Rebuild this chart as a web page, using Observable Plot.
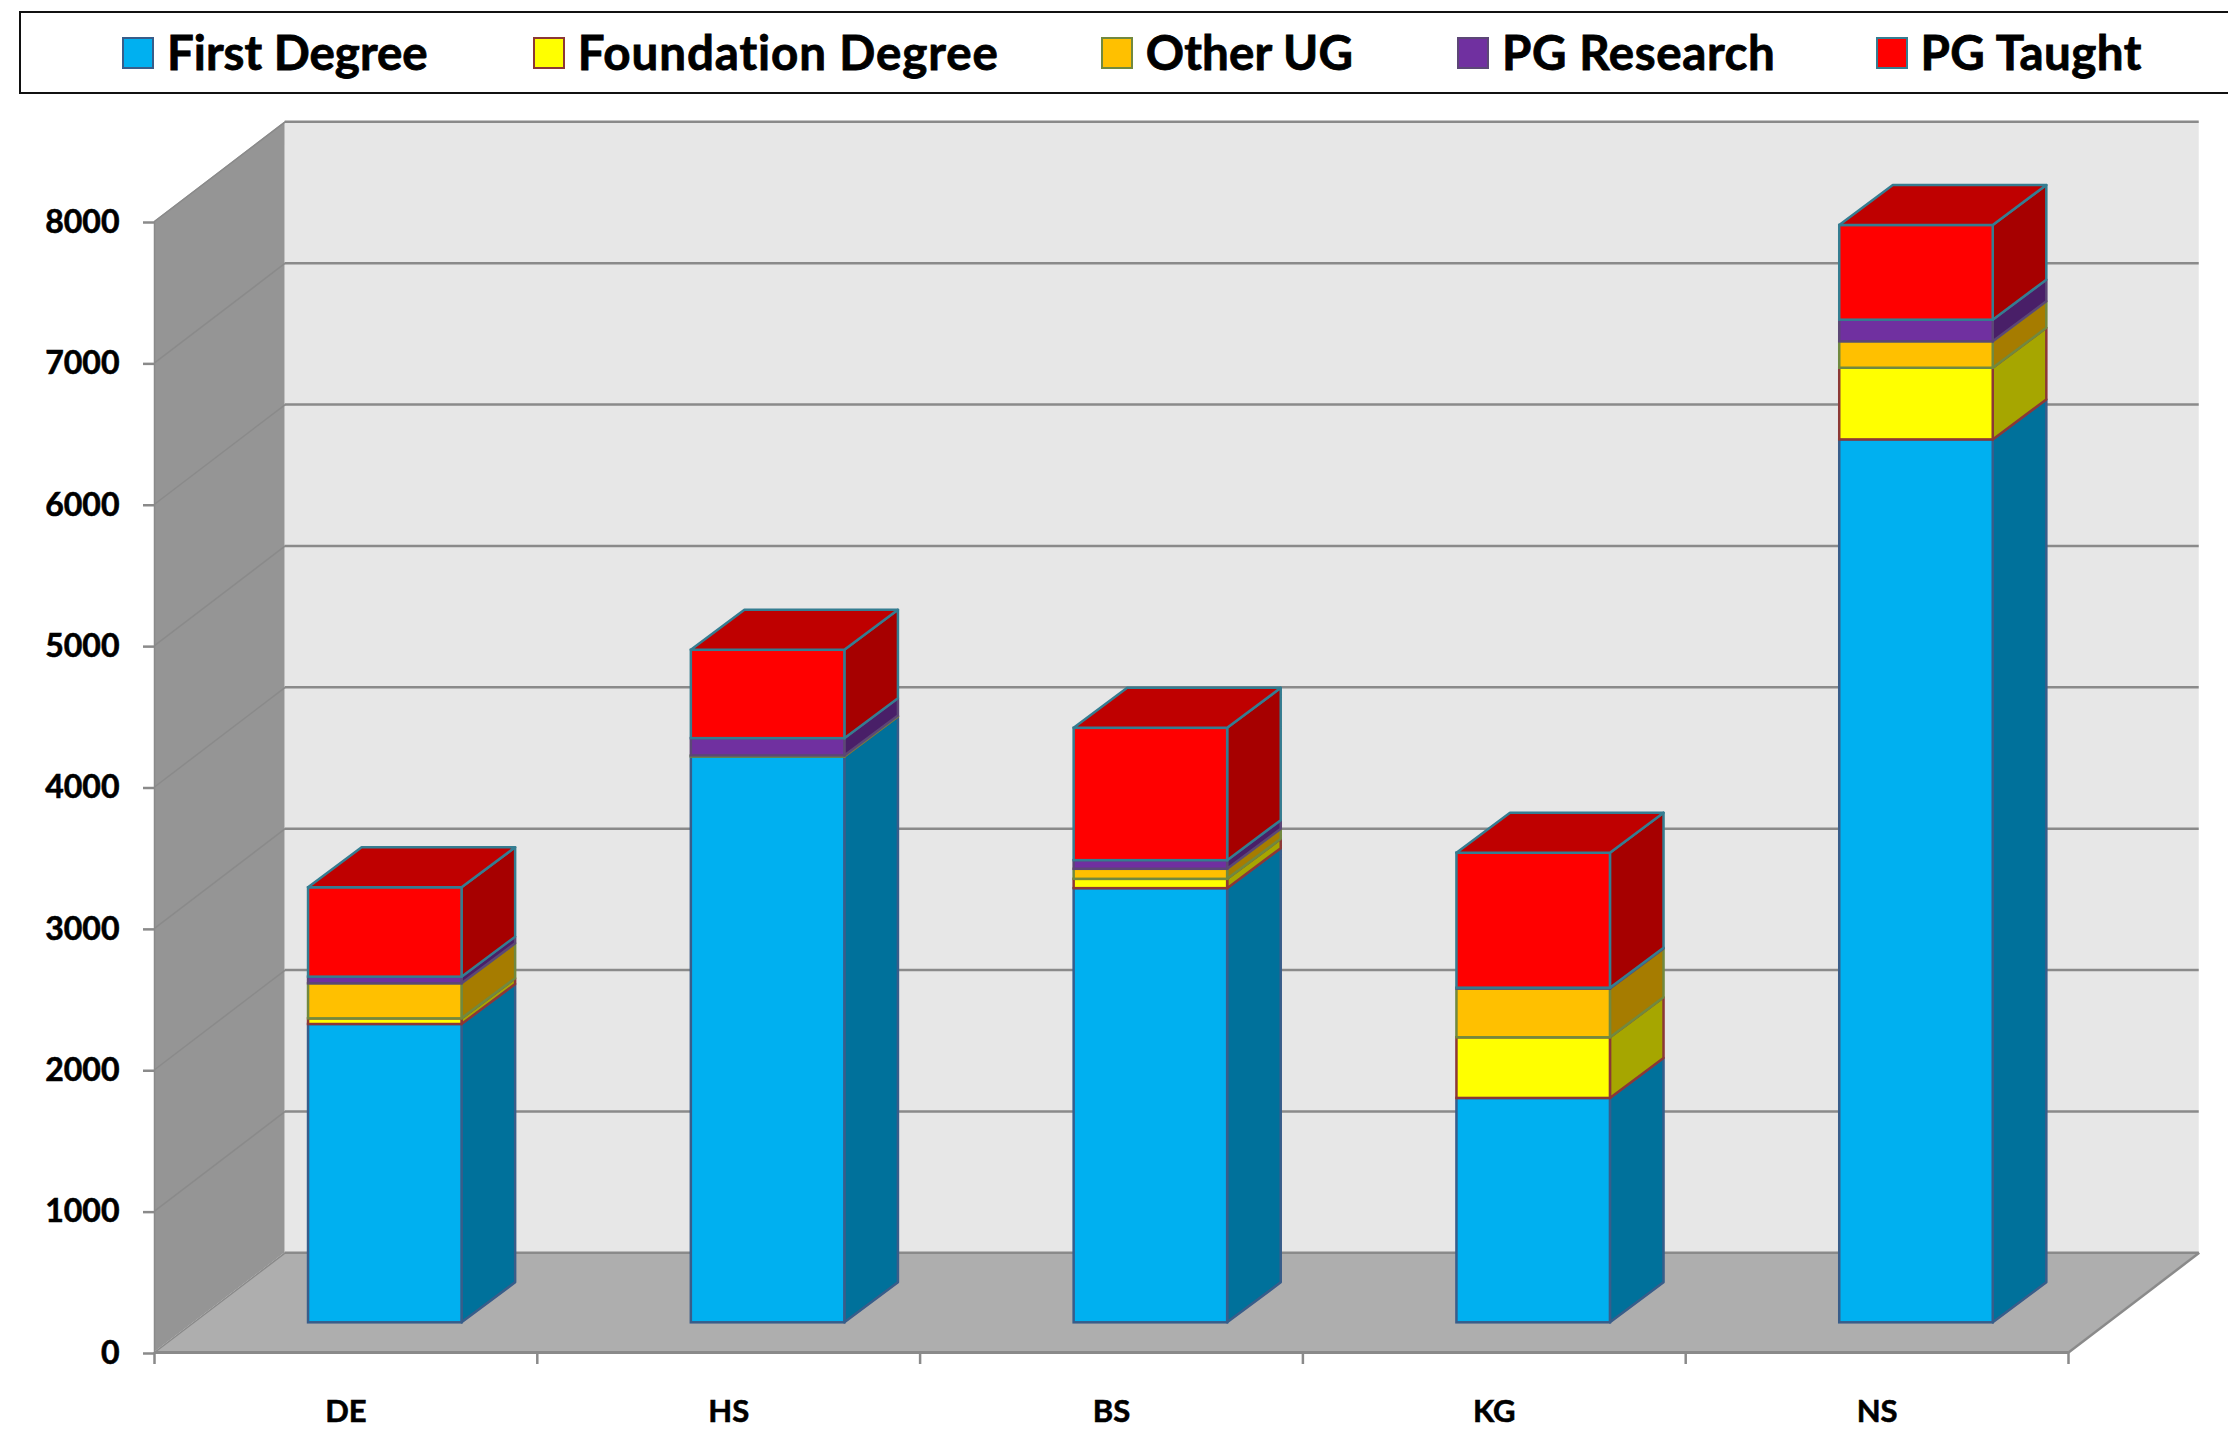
<!DOCTYPE html>
<html>
<head>
<meta charset="utf-8">
<script src="https://cdn.jsdelivr.net/npm/d3@7"></script>
<script src="https://cdn.jsdelivr.net/npm/@observablehq/plot@0.6"></script>
<style>
html,body{margin:0;padding:0;background:#fff;overflow:hidden;}
#legend{box-sizing:border-box;height:83px;margin:11px 0 7px 19px;border:2.5px solid #111;border-right:none;display:flex;align-items:center;padding-left:101px;font:700 47.5px Lato,sans-serif;font-variant-ligatures:none;-webkit-text-stroke:0.8px #000;color:#000;white-space:nowrap;}
#legend .item{display:flex;align-items:center;gap:13px;}
#legend .item span{position:relative;top:-1.5px;}
#legend .sw{box-sizing:border-box;width:32px;height:32px;border:2.5px solid;-webkit-text-stroke:0;}
svg{display:block;}
svg text{stroke:#000;stroke-width:0.6px;}
</style>
</head>
<body>
<div id="legend"></div>
<div id="chart"></div>
<script>
// Categories and series values
const categories = ["DE", "HS", "BS", "KG", "NS"];
const firstDegree      = [2110, 4002, 3071, 1587, 6245];
const foundationDegree = [  40,    0,   66,  429,  507];
const otherUG          = [ 248,    8,   71,  345,  187];
const pgResearch       = [  47,  122,   61,    6,  153];
const pgTaught         = [ 632,  625,  936,  955,  670];
const yTicks = [0, 1000, 2000, 3000, 4000, 5000, 6000, 7000, 8000];

const seriesNames  = ["First Degree", "Foundation Degree", "Other UG", "PG Research", "PG Taught"];
const seriesValues = [firstDegree, foundationDegree, otherUG, pgResearch, pgTaught];
const frontColors  = ["#00B0F0", "#FFFF00", "#FFC000", "#7030A0", "#FF0000"];
const sideColors   = ["#00719B", "#A6A600", "#A67C00", "#491F68", "#A60000"];
const lineColors   = ["#385D8A", "#8C3836", "#71893F", "#5C4776", "#357D91"];
const legendSpacing = [0, 0.9, 0.15, 0.6, 0.45];
const legendGaps    = [0, 105, 102, 104, 100];
const topColor     = "#BF0000";

// 3-D projection, expressed in data units
const wallDx = 0.3415, wallDy = 705;   // depth of the chart box
const barDx = 0.14, barDy = 283;       // depth of each bar
const barGap = 0.4024, barW = 0.401, barBase = 210;
const gridColor = "#8A8A8A";

// Legend
const legend = document.getElementById("legend");
seriesNames.forEach((name, i) => {
  const item = document.createElement("div");
  item.className = "item";
  item.style.marginLeft = legendGaps[i] + "px";
  const sw = document.createElement("div");
  sw.className = "sw";
  sw.style.background = frontColors[i];
  sw.style.borderColor = lineColors[i];
  const label = document.createElement("span");
  label.textContent = name;
  label.style.letterSpacing = legendSpacing[i] + "px";
  item.append(sw, label);
  legend.append(item);
});

// Stacked segments
const fronts = [], sides = [], tops = [];
seriesNames.forEach((name, s) => {
  const front = [], side = [];
  categories.forEach((c, i) => {
    let lo = barBase;
    for (let k = 0; k < s; k++) lo += seriesValues[k][i];
    const hi = lo + seriesValues[s][i];
    const x1 = i + barGap, x2 = x1 + barW;
    front.push({x1, x2, y1: lo, y2: hi});
    side.push({k: c, x: x2, y1: lo, y2: hi});
    side.push({k: c, x: x2 + barDx, y1: lo + barDy, y2: hi + barDy});
    if (s === seriesNames.length - 1) {
      tops.push({k: c, y: hi, x1, x2});
      tops.push({k: c, y: hi + barDy, x1: x1 + barDx, x2: x2 + barDx});
    }
  });
  fronts.push(front);
  sides.push(side);
});

const n = categories.length;
const marks = [
  // left wall
  Plot.areaY([{x: 0, y1: 0, y2: 8000}, {x: wallDx, y1: wallDy, y2: 8000 + wallDy}],
    {x: "x", y1: "y1", y2: "y2", fill: "#959595"}),
  // back wall
  Plot.rect([{}], {x1: wallDx, x2: n + wallDx, y1: wallDy, y2: 8000 + wallDy, fill: "#E7E7E7"}),
  // floor
  Plot.areaX([{y: 0, x1: 0, x2: n}, {y: wallDy, x1: wallDx, x2: n + wallDx}],
    {y: "y", x1: "x1", x2: "x2", fill: "#AEAEAE"}),
  // grid
  Plot.ruleY(yTicks, {y: d => d + wallDy, x1: wallDx, x2: n + wallDx, stroke: gridColor, strokeWidth: 2.5}),
  Plot.link(yTicks, {x1: 0, y1: d => d, x2: wallDx, y2: d => d + wallDy, stroke: gridColor, strokeWidth: 1.5}),
  // box edges
  Plot.link([{}], {x1: n, y1: 0, x2: n + wallDx, y2: wallDy, stroke: gridColor, strokeWidth: 2.5}),
  Plot.ruleY([0], {x1: 0, x2: n, stroke: gridColor, strokeWidth: 3}),
  Plot.ruleX([0], {y1: 0, y2: 8000, stroke: gridColor, strokeWidth: 1.5}),
  // axes
  Plot.axisY({ticks: yTicks, tickSize: 11, tickPadding: 24, label: null, stroke: gridColor, strokeWidth: 2.5,
    color: "#000", fontSize: 32, fontWeight: 700, dy: 1, tickFormat: d => String(d)}),
  Plot.axisX({ticks: d3.range(n + 1), tickSize: 12, label: null, stroke: gridColor, strokeWidth: 2.5, tickFormat: () => ""}),
  Plot.text(categories, {x: (d, i) => i + 0.5, y: 0, dy: 60, text: d => d, fill: "#000", fontSize: 31, fontWeight: 700})
];
seriesNames.forEach((name, s) => {
  marks.push(
    Plot.area(sides[s], {x1: "x", x2: "x", y1: "y1", y2: "y2", z: "k", fill: sideColors[s], stroke: lineColors[s], strokeWidth: 2.5}),
    Plot.rect(fronts[s], {x1: "x1", x2: "x2", y1: "y1", y2: "y2", fill: frontColors[s], stroke: lineColors[s], strokeWidth: 2.5})
  );
});
marks.push(Plot.areaX(tops, {y: "y", x1: "x1", x2: "x2", z: "k", fill: topColor, stroke: lineColors[4], strokeWidth: 2.5}));

const chart = Plot.plot({
  width: 2228,
  height: 1333,
  marginLeft: 154,
  marginRight: 160,
  marginTop: 120,
  marginBottom: 82,
  x: {domain: [0, n], axis: null},
  y: {domain: [0, 8000], axis: null},
  style: {fontFamily: "Lato, sans-serif", background: "transparent", overflow: "visible"},
  marks
});
document.getElementById("chart").append(chart);
</script>
</body>
</html>
